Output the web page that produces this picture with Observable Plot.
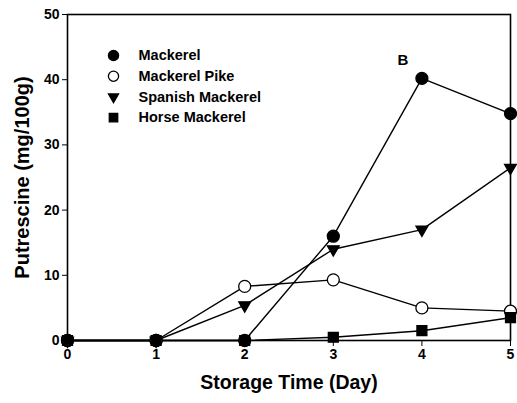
<!DOCTYPE html>
<html>
<head>
<meta charset="utf-8">
<script src="https://cdn.jsdelivr.net/npm/d3@7"></script>
<script src="https://cdn.jsdelivr.net/npm/@observablehq/plot@0.6"></script>
<style>
  body { margin: 0; background: #fff; }
  #chart svg { font-family: Arial, "Liberation Sans", sans-serif; }
</style>
</head>
<body>
<div id="chart"></div>
<script>
const days = [0, 1, 2, 3, 4, 5];
const seriesNames = ["Mackerel", "Mackerel Pike", "Spanish Mackerel", "Horse Mackerel"];
const mackerel = [0, 0, 0, 16.0, 40.2, 34.8];
const mackerelPike = [0, 0, 8.3, 9.3, 5.0, 4.5];
const spanishMackerel = [0, 0, 5.4, 14.0, 17.0, 26.5];
const horseMackerel = [0, 0, 0, 0.5, 1.5, 3.5];
const xTicks = [0, 1, 2, 3, 4, 5];
const yTicks = [0, 10, 20, 30, 40, 50];
const panelLabel = "B";

const values = [mackerel, mackerelPike, spanishMackerel, horseMackerel];
const styles = {
  "Mackerel": {symbol: "circle", fill: "black", rotate: 0, r: 6},
  "Mackerel Pike": {symbol: "circle", fill: "white", rotate: 0, r: 6},
  "Spanish Mackerel": {symbol: "triangle", fill: "black", rotate: 180, r: 4.4},
  "Horse Mackerel": {symbol: "square", fill: "black", rotate: 0, r: 5.6}
};
const data = [];
seriesNames.forEach((s, i) => days.forEach((d, j) => data.push({series: s, day: d, value: values[i][j]})));

const legendRows = seriesNames.map((s, i) => ({series: s, i}));

const chart = Plot.plot({
  width: 517,
  height: 403,
  marginLeft: 67,
  marginRight: 7,
  marginTop: 14,
  marginBottom: 63,
  style: {fontFamily: "Arial, 'Liberation Sans', sans-serif", background: "white"},
  x: {domain: [0, 5], ticks: xTicks, label: null},
  y: {domain: [0, 50], ticks: yTicks, label: null},
  marks: [
    Plot.frame({stroke: "black", strokeWidth: 1.6}),
    Plot.axisX({ticks: xTicks, tickFormat: "d", tickSize: 6, tickPadding: 3, fontSize: 14, fontWeight: "bold", label: null, stroke: "black", color: "black"}),
    Plot.axisY({ticks: yTicks, tickFormat: "d", tickSize: 5, tickPadding: 3, fontSize: 14, fontWeight: "bold", label: null, stroke: "black", color: "black"}),
    Plot.text(["Storage Time (Day)"], {frameAnchor: "bottom", dy: 48, fontSize: 19.5, fontWeight: "bold", fill: "black"}),
    Plot.text(["Putrescine (mg/100g)"], {frameAnchor: "left", textAnchor: "middle", dx: -45, rotate: -90, fontSize: 20, fontWeight: "bold", fill: "black"}),
    Plot.line(data, {x: "day", y: "value", z: "series", stroke: "black", strokeWidth: 1.4}),
    ...seriesNames.map(s => Plot.dot(data.filter(d => d.series === s), {
      x: "day", y: "value", r: styles[s].r,
      symbol: styles[s].symbol, fill: styles[s].fill, stroke: "black", strokeWidth: 1.3, rotate: styles[s].rotate
    })),
    ...seriesNames.map((s, i) => Plot.dot([legendRows[i]], {
      frameAnchor: "top-left", dx: 46, dy: 41 + i * 20.7, r: styles[s].r * 0.85,
      symbol: styles[s].symbol, fill: styles[s].fill, stroke: "black", strokeWidth: 1.3, rotate: styles[s].rotate
    })),
    ...legendRows.map(d => Plot.text([d], {
      text: "series", frameAnchor: "top-left", textAnchor: "start", lineAnchor: "middle", dx: 71, dy: 41 + d.i * 20.7,
      fontSize: 14.5, fontWeight: "bold", fill: "black"
    })),
    Plot.text([panelLabel], {x: 4, y: 40.2, dx: -19, dy: -18, fontSize: 15, fontWeight: "bold", fill: "black"})
  ]
});
document.getElementById("chart").appendChild(chart);
</script>
</body>
</html>
